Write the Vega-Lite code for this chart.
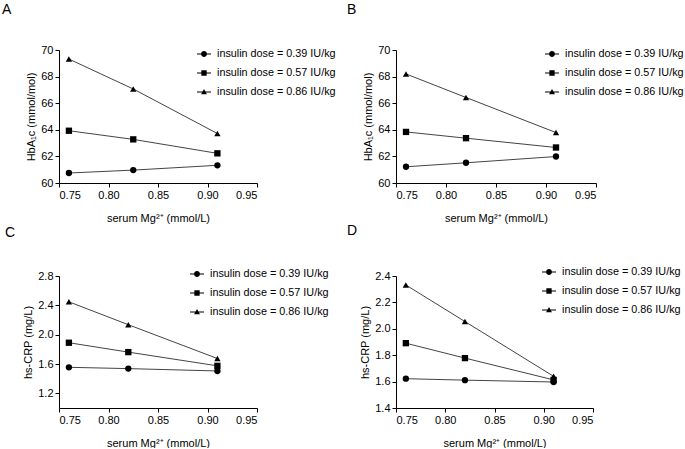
{
  "$schema": "https://vega.github.io/schema/vega-lite/v6.json",
  "padding": {"left": 2, "top": 3, "right": 0, "bottom": 0},
  "background": "white",
  "datasets": {
    "A": [
      {"mg": 0.76, "v": 60.75, "dose": "insulin dose = 0.39 IU/kg"},
      {"mg": 0.825, "v": 60.97, "dose": "insulin dose = 0.39 IU/kg"},
      {"mg": 0.91, "v": 61.33, "dose": "insulin dose = 0.39 IU/kg"},
      {"mg": 0.76, "v": 63.93, "dose": "insulin dose = 0.57 IU/kg"},
      {"mg": 0.825, "v": 63.28, "dose": "insulin dose = 0.57 IU/kg"},
      {"mg": 0.91, "v": 62.23, "dose": "insulin dose = 0.57 IU/kg"},
      {"mg": 0.76, "v": 69.32, "dose": "insulin dose = 0.86 IU/kg"},
      {"mg": 0.825, "v": 67.07, "dose": "insulin dose = 0.86 IU/kg"},
      {"mg": 0.91, "v": 63.72, "dose": "insulin dose = 0.86 IU/kg"}
    ],
    "B": [
      {"mg": 0.76, "v": 61.22, "dose": "insulin dose = 0.39 IU/kg"},
      {"mg": 0.82, "v": 61.52, "dose": "insulin dose = 0.39 IU/kg"},
      {"mg": 0.91, "v": 61.99, "dose": "insulin dose = 0.39 IU/kg"},
      {"mg": 0.76, "v": 63.84, "dose": "insulin dose = 0.57 IU/kg"},
      {"mg": 0.82, "v": 63.37, "dose": "insulin dose = 0.57 IU/kg"},
      {"mg": 0.91, "v": 62.67, "dose": "insulin dose = 0.57 IU/kg"},
      {"mg": 0.76, "v": 68.2, "dose": "insulin dose = 0.86 IU/kg"},
      {"mg": 0.82, "v": 66.43, "dose": "insulin dose = 0.86 IU/kg"},
      {"mg": 0.91, "v": 63.79, "dose": "insulin dose = 0.86 IU/kg"}
    ],
    "C": [
      {"mg": 0.76, "v": 1.555, "dose": "insulin dose = 0.39 IU/kg"},
      {"mg": 0.82, "v": 1.537, "dose": "insulin dose = 0.39 IU/kg"},
      {"mg": 0.91, "v": 1.505, "dose": "insulin dose = 0.39 IU/kg"},
      {"mg": 0.76, "v": 1.89, "dose": "insulin dose = 0.57 IU/kg"},
      {"mg": 0.82, "v": 1.762, "dose": "insulin dose = 0.57 IU/kg"},
      {"mg": 0.91, "v": 1.575, "dose": "insulin dose = 0.57 IU/kg"},
      {"mg": 0.76, "v": 2.448, "dose": "insulin dose = 0.86 IU/kg"},
      {"mg": 0.82, "v": 2.136, "dose": "insulin dose = 0.86 IU/kg"},
      {"mg": 0.91, "v": 1.675, "dose": "insulin dose = 0.86 IU/kg"}
    ],
    "D": [
      {"mg": 0.76, "v": 1.622, "dose": "insulin dose = 0.39 IU/kg"},
      {"mg": 0.82, "v": 1.611, "dose": "insulin dose = 0.39 IU/kg"},
      {"mg": 0.91, "v": 1.597, "dose": "insulin dose = 0.39 IU/kg"},
      {"mg": 0.76, "v": 1.891, "dose": "insulin dose = 0.57 IU/kg"},
      {"mg": 0.82, "v": 1.778, "dose": "insulin dose = 0.57 IU/kg"},
      {"mg": 0.91, "v": 1.613, "dose": "insulin dose = 0.57 IU/kg"},
      {"mg": 0.76, "v": 2.332, "dose": "insulin dose = 0.86 IU/kg"},
      {"mg": 0.82, "v": 2.055, "dose": "insulin dose = 0.86 IU/kg"},
      {"mg": 0.91, "v": 1.64, "dose": "insulin dose = 0.86 IU/kg"}
    ]
  },
  "columns": 2,
  "spacing": {"row": 93, "column": 139},
  "bounds": "flush",
  "concat": [
    {
      "title": {"text": "A", "dx": -57},
      "width": 198, "height": 133,
      "data": {"name": "A"},
      "encoding": {
        "x": {"field": "mg", "type": "quantitative", "title": "serum Mg²⁺ (mmol/L)", "scale": {"domain": [0.75, 0.95]}, "axis": {"values": [0.75, 0.8, 0.85, 0.9, 0.95], "format": ".2f"}},
        "y": {"field": "v", "type": "quantitative", "title": "HbA₁c (mmol/mol)", "scale": {"domain": [60, 70]}, "axis": {"values": [60, 62, 64, 66, 68, 70]}}
      },
      "layer": [
        {"mark": {"type": "line", "color": "#444444", "strokeWidth": 1}, "encoding": {"detail": {"field": "dose"}}},
        {"mark": {"type": "point", "filled": true, "color": "black", "size": 40, "opacity": 1},
         "encoding": {"shape": {"field": "dose", "type": "nominal",
           "scale": {"domain": ["insulin dose = 0.39 IU/kg", "insulin dose = 0.57 IU/kg", "insulin dose = 0.86 IU/kg"], "range": ["circle", "square", "triangle-up"]},
           "legend": null}}},
        {"transform": [{"filter": "false"}],
         "mark": {"type": "point", "filled": true, "color": "black", "opacity": 1},
         "encoding": {"shape": {"field": "dose", "type": "nominal",
           "scale": {"domain": ["insulin dose = 0.39 IU/kg", "insulin dose = 0.57 IU/kg", "insulin dose = 0.86 IU/kg"], "range": ["M-1,-0.07H1V0.07H-1Z M0.42,0A0.42,0.42,0,1,1,-0.42,0A0.42,0.42,0,1,1,0.42,0Z", "M-1,-0.07H1V0.07H-1Z M-0.38,-0.38H0.38V0.38H-0.38Z", "M-1,-0.07H1V0.07H-1Z M0,-0.42L0.42,0.32H-0.42Z"]},
           "legend": {"orient": "none", "legendX": 138, "legendY": -3}}}}
      ],
      "resolve": {"scale": {"shape": "independent"}}
    },
    {
      "title": {"text": "B", "dx": -49},
      "width": 200, "height": 133,
      "data": {"name": "B"},
      "encoding": {
        "x": {"field": "mg", "type": "quantitative", "title": "serum Mg²⁺ (mmol/L)", "scale": {"domain": [0.75, 0.95]}, "axis": {"values": [0.75, 0.8, 0.85, 0.9, 0.95], "format": ".2f"}},
        "y": {"field": "v", "type": "quantitative", "title": "HbA₁c (mmol/mol)", "scale": {"domain": [60, 70]}, "axis": {"values": [60, 62, 64, 66, 68, 70]}}
      },
      "layer": [
        {"mark": {"type": "line", "color": "#444444", "strokeWidth": 1}, "encoding": {"detail": {"field": "dose"}}},
        {"mark": {"type": "point", "filled": true, "color": "black", "size": 40, "opacity": 1},
         "encoding": {"shape": {"field": "dose", "type": "nominal",
           "scale": {"domain": ["insulin dose = 0.39 IU/kg", "insulin dose = 0.57 IU/kg", "insulin dose = 0.86 IU/kg"], "range": ["circle", "square", "triangle-up"]},
           "legend": null}}},
        {"transform": [{"filter": "false"}],
         "mark": {"type": "point", "filled": true, "color": "black", "opacity": 1},
         "encoding": {"shape": {"field": "dose", "type": "nominal",
           "scale": {"domain": ["insulin dose = 0.39 IU/kg", "insulin dose = 0.57 IU/kg", "insulin dose = 0.86 IU/kg"], "range": ["M-1,-0.07H1V0.07H-1Z M0.42,0A0.42,0.42,0,1,1,-0.42,0A0.42,0.42,0,1,1,0.42,0Z", "M-1,-0.07H1V0.07H-1Z M-0.38,-0.38H0.38V0.38H-0.38Z", "M-1,-0.07H1V0.07H-1Z M0,-0.42L0.42,0.32H-0.42Z"]},
           "legend": {"orient": "none", "legendX": 149, "legendY": -3}}}}
      ],
      "resolve": {"scale": {"shape": "independent"}}
    },
    {
      "title": {"text": "C", "dx": -54},
      "width": 198, "height": 132,
      "data": {"name": "C"},
      "encoding": {
        "x": {"field": "mg", "type": "quantitative", "title": "serum Mg²⁺ (mmol/L)", "scale": {"domain": [0.75, 0.95]}, "axis": {"values": [0.75, 0.8, 0.85, 0.9, 0.95], "format": ".2f"}},
        "y": {"field": "v", "type": "quantitative", "title": "hs-CRP (mg/L)", "scale": {"domain": [1.0, 2.8]}, "axis": {"values": [1.2, 1.6, 2.0, 2.4, 2.8], "format": ".1f"}}
      },
      "layer": [
        {"mark": {"type": "line", "color": "#444444", "strokeWidth": 1}, "encoding": {"detail": {"field": "dose"}}},
        {"mark": {"type": "point", "filled": true, "color": "black", "size": 40, "opacity": 1},
         "encoding": {"shape": {"field": "dose", "type": "nominal",
           "scale": {"domain": ["insulin dose = 0.39 IU/kg", "insulin dose = 0.57 IU/kg", "insulin dose = 0.86 IU/kg"], "range": ["circle", "square", "triangle-up"]},
           "legend": null}}},
        {"transform": [{"filter": "false"}],
         "mark": {"type": "point", "filled": true, "color": "black", "opacity": 1},
         "encoding": {"shape": {"field": "dose", "type": "nominal",
           "scale": {"domain": ["insulin dose = 0.39 IU/kg", "insulin dose = 0.57 IU/kg", "insulin dose = 0.86 IU/kg"], "range": ["M-1,-0.07H1V0.07H-1Z M0.42,0A0.42,0.42,0,1,1,-0.42,0A0.42,0.42,0,1,1,0.42,0Z", "M-1,-0.07H1V0.07H-1Z M-0.38,-0.38H0.38V0.38H-0.38Z", "M-1,-0.07H1V0.07H-1Z M0,-0.42L0.42,0.32H-0.42Z"]},
           "legend": {"orient": "none", "legendX": 131, "legendY": -9}}}}
      ],
      "resolve": {"scale": {"shape": "independent"}}
    },
    {
      "title": {"text": "D", "dx": -49},
      "width": 197, "height": 132,
      "data": {"name": "D"},
      "encoding": {
        "x": {"field": "mg", "type": "quantitative", "title": "serum Mg²⁺ (mmol/L)", "scale": {"domain": [0.75, 0.95]}, "axis": {"values": [0.75, 0.8, 0.85, 0.9, 0.95], "format": ".2f"}},
        "y": {"field": "v", "type": "quantitative", "title": "hs-CRP (mg/L)", "scale": {"domain": [1.4, 2.4]}, "axis": {"values": [1.4, 1.6, 1.8, 2.0, 2.2, 2.4], "format": ".1f"}}
      },
      "layer": [
        {"mark": {"type": "line", "color": "#444444", "strokeWidth": 1}, "encoding": {"detail": {"field": "dose"}}},
        {"mark": {"type": "point", "filled": true, "color": "black", "size": 40, "opacity": 1},
         "encoding": {"shape": {"field": "dose", "type": "nominal",
           "scale": {"domain": ["insulin dose = 0.39 IU/kg", "insulin dose = 0.57 IU/kg", "insulin dose = 0.86 IU/kg"], "range": ["circle", "square", "triangle-up"]},
           "legend": null}}},
        {"transform": [{"filter": "false"}],
         "mark": {"type": "point", "filled": true, "color": "black", "opacity": 1},
         "encoding": {"shape": {"field": "dose", "type": "nominal",
           "scale": {"domain": ["insulin dose = 0.39 IU/kg", "insulin dose = 0.57 IU/kg", "insulin dose = 0.86 IU/kg"], "range": ["M-1,-0.07H1V0.07H-1Z M0.42,0A0.42,0.42,0,1,1,-0.42,0A0.42,0.42,0,1,1,0.42,0Z", "M-1,-0.07H1V0.07H-1Z M-0.38,-0.38H0.38V0.38H-0.38Z", "M-1,-0.07H1V0.07H-1Z M0,-0.42L0.42,0.32H-0.42Z"]},
           "legend": {"orient": "none", "legendX": 146, "legendY": -11}}}}
      ],
      "resolve": {"scale": {"shape": "independent"}}
    }
  ],
  "resolve": {"scale": {"shape": "independent"}, "legend": {"shape": "independent"}},
  "config": {
    "font": "Liberation Sans",
    "view": {"stroke": null},
    "axis": {"grid": false, "domainColor": "black", "tickColor": "black", "labelColor": "black", "titleColor": "black", "labelFontSize": 11, "titleFontSize": 11, "titleFontWeight": "normal", "tickSize": 4, "labelPadding": 2, "domainWidth": 1, "tickWidth": 1},
    "axisX": {"titlePadding": 12},
    "axisY": {"titlePadding": 4},
    "legend": {"title": null, "labelFontSize": 10.8, "labelColor": "black", "symbolSize": 196, "rowPadding": 7, "labelOffset": 6, "symbolFillColor": "black", "symbolStrokeColor": "black", "symbolStrokeWidth": 0, "symbolOpacity": 1, "padding": 0},
    "title": {"anchor": "start", "frame": "group", "fontSize": 14, "fontWeight": "normal", "offset": 27, "color": "black"}
  }
}
